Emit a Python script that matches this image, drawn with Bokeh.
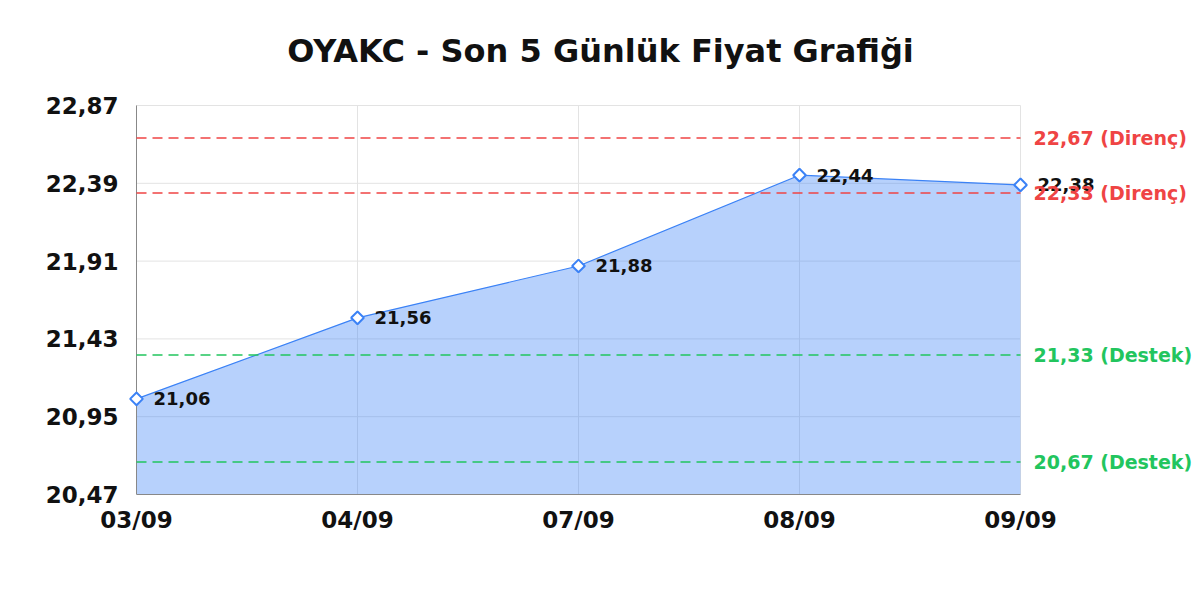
import math
from bokeh.plotting import figure
from bokeh.models import ColumnDataSource, Label, FixedTicker, Range1d
from bokeh.embed import file_html
from bokeh.resources import INLINE

title = "OYAKC - Son 5 Günlük Fiyat Grafiği"
dates = ["03/09", "04/09", "07/09", "08/09", "09/09"]
prices = [21.06, 21.56, 21.88, 22.44, 22.38]
resistance = [22.67, 22.33]
support = [21.33, 20.67]
y_ticks = [20.47, 20.95, 21.43, 21.91, 22.39, 22.87]

def fmt(v):
    return f"{v:.2f}".replace(".", ",")

xs = list(range(len(dates)))
FONT = "DejaVu Sans"

# pixel layout of the visible plot box
W, H = 1200, 600
BOX_L, BOX_R, BOX_T, BOX_B = 136, 1020, 105, 494
FRAME_L = 128
px_x = (BOX_R - BOX_L) / (xs[-1] - xs[0])
px_y = (BOX_B - BOX_T) / (y_ticks[-1] - y_ticks[0])
x_start = xs[0] - (BOX_L - FRAME_L) / px_x
x_end = xs[-1] + (W - BOX_R) / px_x
y_end = y_ticks[-1] + BOX_T / px_y

p = figure(width=W, height=H, output_backend="svg", toolbar_location=None,
           x_range=Range1d(x_start, x_end), y_range=Range1d(y_ticks[0], y_end),
           min_border_left=FRAME_L, min_border_right=0, min_border_top=0,
           min_border_bottom=H - BOX_B)
p.outline_line_color = None
p.grid.visible = False

# axes
p.xaxis.ticker = FixedTicker(ticks=xs)
p.xaxis.major_label_overrides = {i: d for i, d in enumerate(dates)}
p.xaxis.bounds = (xs[0], xs[-1])
p.xaxis.axis_line_color = "#888888"
p.yaxis.ticker = FixedTicker(ticks=y_ticks)
p.yaxis.major_label_overrides = {t: fmt(t) for t in y_ticks}
p.yaxis.axis_line_color = None
for ax in (p.xaxis, p.yaxis):
    ax.major_tick_line_color = None
    ax.minor_tick_line_color = None
    ax.major_label_text_font = FONT
    ax.major_label_text_font_size = "23px"
    ax.major_label_text_font_style = "bold"
    ax.major_label_text_color = "#111111"
p.xaxis.major_label_standoff = 6
p.yaxis.major_label_standoff = 4

# grid inside the plot box
grid_col = "#e3e3e3"
p.segment(x0=[xs[0]] * len(y_ticks), x1=[xs[-1]] * len(y_ticks), y0=y_ticks, y1=y_ticks,
          line_color=grid_col, line_width=1)
p.segment(x0=xs, x1=xs, y0=[y_ticks[0]] * len(xs), y1=[y_ticks[-1]] * len(xs),
          line_color=grid_col, line_width=1)

src = ColumnDataSource(dict(x=xs, y=prices))

p.varea(x="x", y1=y_ticks[0], y2="y", source=src, fill_color="#3b82f6", fill_alpha=0.37)

# y axis line at the first date
p.segment(x0=[xs[0]], x1=[xs[0]], y0=[y_ticks[0]], y1=[y_ticks[-1]],
          line_color="#888888", line_width=1)

p.line(x="x", y="y", source=src, line_color="#3b82f6", line_width=1.2)

p.segment(x0=[xs[0]] * len(resistance), x1=[xs[-1]] * len(resistance), y0=resistance,
          y1=resistance, line_color="#ef4444", line_dash="10 6", line_width=1.5)
p.segment(x0=[xs[0]] * len(support), x1=[xs[-1]] * len(support), y0=support,
          y1=support, line_color="#22c55e", line_dash="10 6", line_width=1.5)

p.scatter(x="x", y="y", source=src, marker="square", size=9, angle=math.pi / 4,
          fill_color="white", line_color="#3b82f6", line_width=2)

base_style = dict(text_baseline="middle", text_font=FONT, text_font_style="bold")

for xv, yv in zip(xs, prices):
    p.add_layout(Label(x=xv, y=yv, text=fmt(yv), x_offset=17, text_font_size="18px",
                       text_color="#111111", **base_style))

levels = [(v, f"{fmt(v)} (Direnç)", "#ef4444") for v in resistance] + \
         [(v, f"{fmt(v)} (Destek)", "#22c55e") for v in support]
for yv, t, c in levels:
    p.add_layout(Label(x=xs[-1], y=yv, text=t, x_offset=13, text_font_size="19px",
                       text_color=c, **base_style))

p.add_layout(Label(x=W / 2 - FRAME_L, y=BOX_B - 50, x_units="screen", y_units="screen",
                   text=title, text_align="center", text_baseline="alphabetic",
                   text_font=FONT, text_font_size="32px", text_font_style="bold",
                   text_color="#111111"))

open("out.html", "w").write(file_html(p, INLINE))
